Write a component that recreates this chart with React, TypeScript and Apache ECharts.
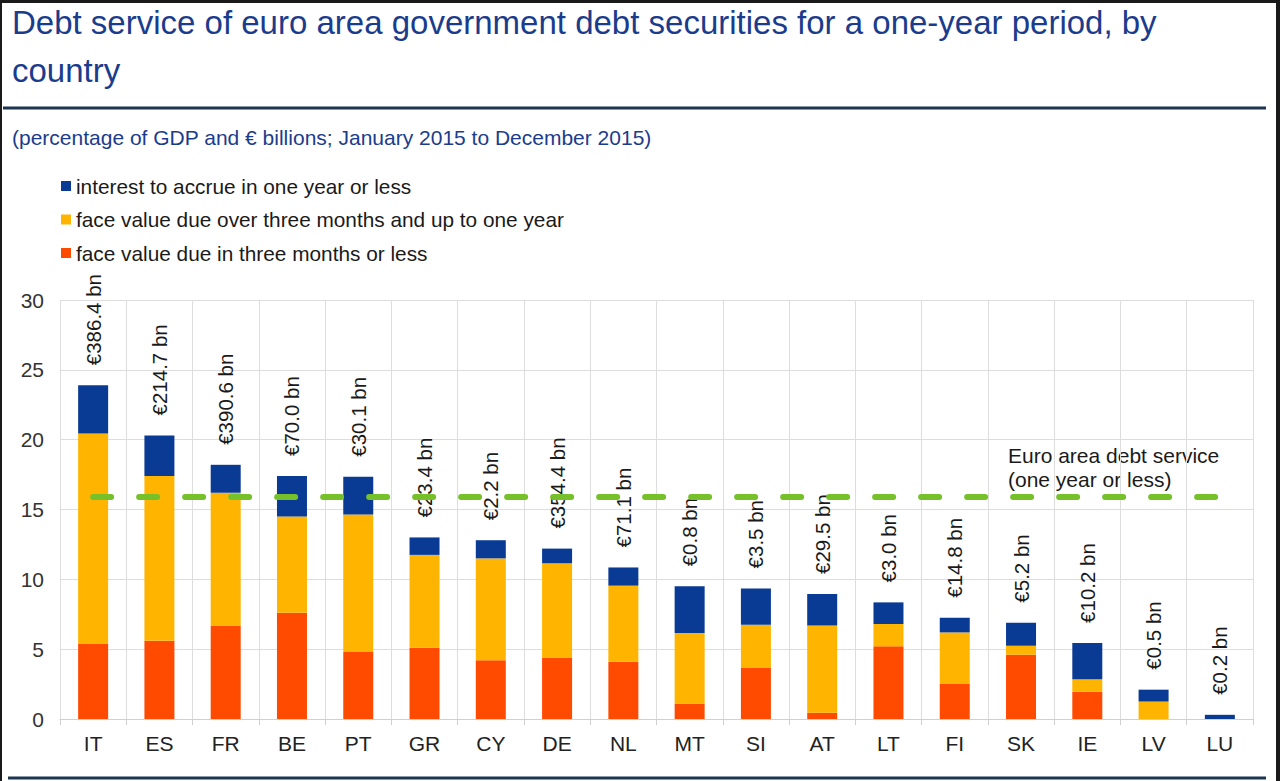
import React, { useEffect, useRef } from "react";
import * as echarts from "echarts";

const categories = ["IT", "ES", "FR", "BE", "PT", "GR", "CY", "DE", "NL", "MT", "SI", "AT", "LT", "FI", "SK", "IE", "LV", "LU"];
const dueThreeMonths = [5.4, 5.6, 6.7, 7.6, 4.8, 5.1, 4.2, 4.4, 4.1, 1.1, 3.65, 0.45, 5.2, 2.5, 4.6, 1.95, 0, 0];
const dueUpToOneYear = [15.05, 11.8, 9.5, 6.9, 9.85, 6.65, 7.3, 6.75, 5.45, 5.05, 3.1, 6.25, 1.6, 3.7, 0.65, 0.9, 1.25, 0];
const interestAccrue = [3.45, 2.9, 2.0, 2.9, 2.7, 1.25, 1.3, 1.05, 1.3, 3.35, 2.6, 2.25, 1.55, 1.05, 1.65, 2.6, 0.85, 0.3];
const billions = [386.4, 214.7, 390.6, 70.0, 30.1, 23.4, 2.2, 354.4, 71.1, 0.8, 3.5, 29.5, 3.0, 14.8, 5.2, 10.2, 0.5, 0.2];
const euroAreaService = 15.9;

const seriesNames = [
  "face value due in three months or less",
  "face value due over three months and up to one year",
  "interest to accrue in one year or less",
];
const legendOrder = [seriesNames[2], seriesNames[1], seriesNames[0]];

const FONT = "'Liberation Sans', Arial, sans-serif";
const TITLE_COLOR = "#1b3c8c";

export default function App() {
  const ref = useRef<HTMLDivElement>(null);
  useEffect(() => {
    if (!ref.current) return;
    const chart = echarts.init(ref.current, null, { renderer: "svg" });
    chart.setOption({
      animation: false,
      backgroundColor: "#ffffff",
      textStyle: { fontFamily: FONT },
      legend: {
        data: legendOrder,
        orient: "vertical",
        left: 56,
        top: 169,
        itemWidth: 10,
        itemHeight: 10,
        itemGap: 9.5,
        icon: "rect",
        textStyle: { fontSize: 20.8, color: "#1a1a1a", lineHeight: 24, fontFamily: FONT },
        selectedMode: false,
      },
      grid: { left: 60, right: 27, top: 300, bottom: 62 },
      xAxis: {
        type: "category",
        data: categories,
        axisLine: { lineStyle: { color: "#d0d0d0", width: 1 } },
        axisTick: { show: true, length: 6, lineStyle: { color: "#d0d0d0" } },
        splitLine: { show: true, lineStyle: { color: "#dddddd", width: 1 } },
        axisLabel: { fontSize: 21, color: "#222", margin: 14, fontFamily: FONT },
      },
      yAxis: {
        type: "value",
        min: 0,
        max: 30,
        interval: 5,
        axisLine: { show: false },
        axisTick: { show: false },
        splitLine: { lineStyle: { color: "#dddddd", width: 1 } },
        axisLabel: { fontSize: 21, color: "#333", margin: 16, fontFamily: FONT },
      },
      series: [
        {
          name: seriesNames[0],
          type: "bar",
          stack: "total",
          barWidth: 30,
          itemStyle: { color: "#ff4b00" },
          data: dueThreeMonths,
        },
        {
          name: seriesNames[1],
          type: "bar",
          stack: "total",
          barWidth: 30,
          itemStyle: { color: "#ffb400" },
          data: dueUpToOneYear,
        },
        {
          name: seriesNames[2],
          type: "bar",
          stack: "total",
          barWidth: 30,
          itemStyle: { color: "#0a3b94" },
          data: interestAccrue,
          label: {
            show: true,
            position: "top",
            distance: 20,
            rotate: 90,
            align: "left",
            verticalAlign: "middle",
            fontSize: 20.5,
            color: "#1a1a1a",
            fontFamily: FONT,
            formatter: (p: any) => `€${billions[p.dataIndex].toFixed(1)} bn`,
          },
          markLine: {
            silent: true,
            symbol: "none",
            label: { show: false },
            lineStyle: { color: "#76c02a", width: 6, type: [18, 28], cap: "round" },
            data: [
              [
                { coord: [categories[0], euroAreaService] },
                { coord: [categories[categories.length - 1], euroAreaService] },
              ],
            ],
          },
        },
      ],
      graphic: [
        { type: "rect", shape: { x: 0, y: 0, width: 1280, height: 3 }, style: { fill: "#1a1a1a" }, silent: true },
        { type: "rect", shape: { x: 0, y: 0, width: 2, height: 781 }, style: { fill: "#1a1a1a" }, silent: true },
        { type: "rect", shape: { x: 1276, y: 0, width: 4, height: 781 }, style: { fill: "#1a1a1a" }, silent: true },
        {
          type: "text",
          left: 12,
          top: -2,
          style: {
            text: "Debt service of euro area government debt securities for a one-year period, by\ncountry",
            font: `33px ${FONT}`,
            lineHeight: 48,
            fill: TITLE_COLOR,
          },
        },
        {
          type: "line",
          shape: { x1: 3, y1: 108, x2: 1266, y2: 108 },
          style: { stroke: "#1c3550", lineWidth: 3 },
          silent: true,
        },
        {
          type: "text",
          left: 12,
          top: 127,
          style: {
            text: "(percentage of GDP and € billions; January 2015 to December 2015)",
            font: `21px ${FONT}`,
            fill: TITLE_COLOR,
          },
        },
        {
          type: "text",
          left: 1008,
          top: 443,
          style: {
            text: "Euro area debt service\n(one year or less)",
            font: `21px ${FONT}`,
            lineHeight: 24,
            fill: "#1a1a1a",
          },
        },
        {
          type: "line",
          shape: { x1: 8, y1: 778, x2: 1266, y2: 778 },
          style: { stroke: "#1c3550", lineWidth: 3 },
          silent: true,
        },
      ],
    });
    return () => chart.dispose();
  }, []);
  return <div ref={ref} style={{ position: "fixed", left: 0, top: 0, width: 1280, height: 781 }} />;
}
